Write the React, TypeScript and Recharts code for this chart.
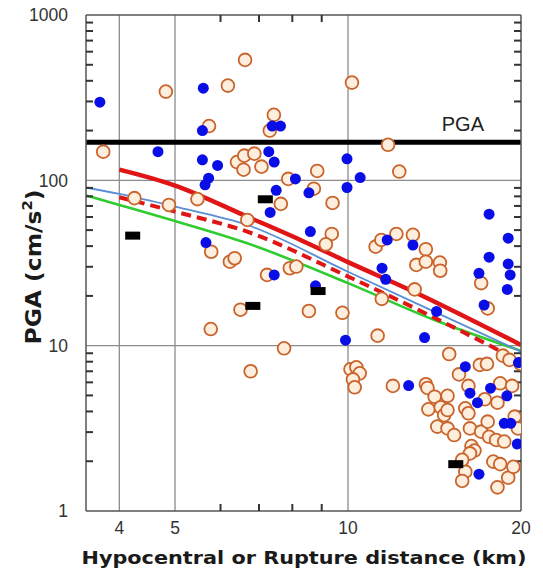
import React from "react";
import { ComposedChart, XAxis, YAxis, Scatter, Line, ReferenceLine } from "recharts";

// filled blue stations
const blueSites = [
  { x: 3.7, y: 297 }, { x: 5.6, y: 361 }, { x: 5.58, y: 200 }, { x: 4.67, y: 149 },
  { x: 5.58, y: 133 }, { x: 5.93, y: 123 }, { x: 5.72, y: 103 }, { x: 5.64, y: 94 },
  { x: 7.28, y: 149 }, { x: 7.44, y: 129 }, { x: 7.38, y: 213 }, { x: 7.63, y: 213 },
  { x: 8.1, y: 102 }, { x: 7.5, y: 87 }, { x: 7.32, y: 64 }, { x: 5.66, y: 42 },
  { x: 7.44, y: 26.8 }, { x: 8.55, y: 84 }, { x: 8.6, y: 49 }, { x: 8.78, y: 23 },
  { x: 9.96, y: 135 }, { x: 10.5, y: 104 }, { x: 9.96, y: 90.5 }, { x: 9.9, y: 10.8 },
  { x: 11.7, y: 43.6 }, { x: 12.97, y: 40.6 }, { x: 11.46, y: 29.4 }, { x: 11.63, y: 25.2 },
  { x: 17.6, y: 62.4 }, { x: 17.6, y: 34.3 }, { x: 19.0, y: 44.7 }, { x: 19.0, y: 31.2 },
  { x: 19.15, y: 26.8 }, { x: 16.9, y: 27.4 }, { x: 18.93, y: 21.9 }, { x: 17.25, y: 17.6 },
  { x: 14.26, y: 16.1 }, { x: 13.59, y: 11.2 }, { x: 16.0, y: 7.46 }, { x: 19.8, y: 7.9 },
  { x: 12.75, y: 5.74 }, { x: 16.3, y: 5.16 }, { x: 16.8, y: 4.52 }, { x: 17.7, y: 5.53 },
  { x: 18.9, y: 4.97 }, { x: 18.7, y: 3.39 }, { x: 19.2, y: 3.39 }, { x: 19.7, y: 2.54 },
  { x: 16.9, y: 1.67 },
];

// open orange stations
const orangeSites = [
  { x: 3.75, y: 149 }, { x: 4.82, y: 344 }, { x: 6.18, y: 374 }, { x: 6.62, y: 535 },
  { x: 5.73, y: 213 }, { x: 7.43, y: 249 }, { x: 7.31, y: 200 }, { x: 6.41, y: 129 },
  { x: 6.6, y: 141 }, { x: 6.87, y: 145 }, { x: 6.58, y: 116 }, { x: 7.07, y: 121 },
  { x: 7.87, y: 102 }, { x: 4.25, y: 78 }, { x: 4.88, y: 71 }, { x: 5.47, y: 77 },
  { x: 7.64, y: 72 }, { x: 6.68, y: 57.6 }, { x: 5.78, y: 37 }, { x: 6.23, y: 32.2 },
  { x: 6.35, y: 33.8 }, { x: 7.23, y: 26.8 }, { x: 7.92, y: 29.4 }, { x: 8.13, y: 30.1 },
  { x: 8.84, y: 114 }, { x: 8.72, y: 89 }, { x: 9.4, y: 73 }, { x: 9.37, y: 47.4 },
  { x: 9.15, y: 41 }, { x: 6.5, y: 16.5 }, { x: 5.77, y: 12.6 }, { x: 8.55, y: 16.2 },
  { x: 9.78, y: 15.8 }, { x: 7.74, y: 9.64 }, { x: 6.77, y: 7.0 }, { x: 10.16, y: 390 },
  { x: 11.74, y: 164 }, { x: 12.28, y: 113 },
  { x: 11.17, y: 39.7 }, { x: 11.43, y: 43.6 }, { x: 12.14, y: 47.4 }, { x: 12.97, y: 46.8 },
  { x: 13.66, y: 38.3 }, { x: 13.15, y: 30.8 }, { x: 13.66, y: 32.2 }, { x: 14.45, y: 31.8 },
  { x: 14.47, y: 28.4 }, { x: 17.05, y: 23.9 }, { x: 13.06, y: 21.9 }, { x: 11.45, y: 19.2 },
  { x: 11.26, y: 11.5 }, { x: 17.5, y: 16.8 },
  { x: 15.0, y: 8.9 }, { x: 18.6, y: 8.7 }, { x: 19.1, y: 8.2 }, { x: 19.98, y: 7.76 },
  { x: 16.96, y: 7.65 }, { x: 17.45, y: 7.76 }, { x: 10.1, y: 7.2 }, { x: 10.34, y: 7.4 },
  { x: 10.48, y: 6.8 }, { x: 10.2, y: 6.25 }, { x: 10.27, y: 5.6 }, { x: 11.97, y: 5.71 },
  { x: 13.66, y: 5.84 }, { x: 13.75, y: 5.55 }, { x: 14.15, y: 4.91 }, { x: 14.9, y: 4.97 },
  { x: 13.8, y: 4.12 }, { x: 14.5, y: 4.24 }, { x: 14.7, y: 3.8 }, { x: 14.9, y: 4.08 },
  { x: 14.3, y: 3.24 }, { x: 14.9, y: 3.16 }, { x: 15.3, y: 2.88 }, { x: 15.6, y: 6.7 },
  { x: 16.2, y: 5.71 }, { x: 17.3, y: 4.74 }, { x: 16.0, y: 4.18 }, { x: 16.2, y: 3.9 },
  { x: 16.3, y: 3.16 }, { x: 17.05, y: 3.02 }, { x: 17.5, y: 3.47 }, { x: 17.6, y: 2.81 },
  { x: 18.1, y: 2.69 }, { x: 18.7, y: 2.63 }, { x: 18.4, y: 5.92 }, { x: 18.2, y: 4.52 },
  { x: 19.3, y: 5.71 }, { x: 19.5, y: 3.72 }, { x: 19.75, y: 3.16 }, { x: 16.4, y: 2.47 },
  { x: 16.6, y: 2.32 }, { x: 16.3, y: 2.23 }, { x: 16.0, y: 1.73 }, { x: 15.8, y: 1.52 },
  { x: 17.9, y: 1.99 }, { x: 18.4, y: 1.92 }, { x: 19.0, y: 1.59 }, { x: 19.4, y: 1.85 },
  { x: 18.2, y: 1.39 }, { x: 15.8, y: 2.04 },
];

// black bars
const blackSites = [
  { x: 4.22, y: 46.3 }, { x: 7.18, y: 76.8 }, { x: 6.83, y: 17.4 }, { x: 8.87, y: 21.4 },
  { x: 15.4, y: 1.92 },
];

// attenuation curves
const redModel = [
  { x: 4, y: 116 }, { x: 5, y: 93 }, { x: 6.7, y: 60 }, { x: 8.3, y: 43.3 },
  { x: 10, y: 32 }, { x: 12.9, y: 21.5 }, { x: 20, y: 10.1 },
];
const redDashModel = [
  { x: 4, y: 79 }, { x: 5, y: 64.7 }, { x: 6.68, y: 48.9 }, { x: 10, y: 26.2 },
  { x: 14, y: 15 }, { x: 20, y: 8.0 },
];
const blueModel = [
  { x: 3.5, y: 90.5 }, { x: 4, y: 82.7 }, { x: 5, y: 69.3 }, { x: 6.68, y: 53.7 },
  { x: 10, y: 28 }, { x: 14, y: 16.3 }, { x: 20, y: 9.2 },
];
const greenModel = [
  { x: 3.5, y: 81 }, { x: 4, y: 71 }, { x: 5, y: 56.8 }, { x: 6.68, y: 41.6 },
  { x: 10, y: 23.9 }, { x: 14, y: 14.5 }, { x: 20, y: 9.3 },
];

const pgaLevel = 170;

const xDomain = [3.5, 20];
const yDomain = [1, 1000];
const xTickLabels = [4, 5, 10, 20];
const xMinorTicks = [6, 7, 8, 9];
const yTickLabels = [1, 10, 100, 1000];
const yMinorTicks = [
  2, 3, 4, 5, 6, 7, 8, 9, 20, 30, 40, 50, 60, 70, 80, 90,
  200, 300, 400, 500, 600, 700, 800, 900,
];
const xGrid = [4, 5, 10];
const yGrid = [10, 100];

// minor tick marks sit on the frame edges (domain ends)
const leftMinor = yMinorTicks.map((v) => ({ x: 3.5, y: v }));
const rightMinor = yMinorTicks.map((v) => ({ x: 20, y: v }));
const bottomMinor = xMinorTicks.map((v) => ({ x: v, y: 1 }));
const topMinor = xMinorTicks.map((v) => ({ x: v, y: 1000 }));

const FONT = "'Liberation Sans', Arial, sans-serif";
const FRAME = "#555";

const YTick = (props: any) => {
  const { x, y, payload } = props;
  return (
    <text x={x} y={y} dy="0.36em" textAnchor="end" fontSize={17.5} fill="#333" fontFamily={FONT}>
      {payload.value}
    </text>
  );
};

const XTick = (props: any) => {
  const { x, y, payload } = props;
  return (
    <text x={x} y={y} dy="0.36em" textAnchor="middle" fontSize={17.5} fill="#333" fontFamily={FONT}>
      {payload.value}
    </text>
  );
};

// inward tick marks
const leftMark = (props: any) => (
  <path d={`M${props.cx},${props.cy}h7`} stroke="#333" strokeWidth={2} />
);
const rightMark = (props: any) => (
  <path d={`M${props.cx},${props.cy}h-7`} stroke="#333" strokeWidth={2} />
);
const bottomMark = (props: any) => (
  <path d={`M${props.cx},${props.cy}v-7`} stroke="#333" strokeWidth={2} />
);
const topMark = (props: any) => (
  <path d={`M${props.cx},${props.cy}v7`} stroke="#333" strokeWidth={2} />
);

const OpenDot = (props: any) => (
  <circle cx={props.cx} cy={props.cy} r={6.4} fill="#fdeedd" stroke="#c9642c" strokeWidth={1.8} />
);
const BlueDot = (props: any) => (
  <circle cx={props.cx} cy={props.cy} r={5.5} fill="#0a0ee6" />
);
const BlackBar = (props: any) => (
  <rect x={props.cx - 7.5} y={props.cy - 4} width={15} height={8} fill="#000" />
);

const PgaLabel = (props: any) => {
  const vb = props.viewBox || {};
  return (
    <text x={vb.x + vb.width - 37} y={vb.y - 11} textAnchor="end" fontSize={20} fill="#222" fontFamily={FONT}>
      PGA
    </text>
  );
};

const frameLine = { stroke: FRAME, strokeWidth: 1.5 };

export default function App() {
  return (
    <div style={{ position: "absolute", left: 0, top: 0, width: 543, height: 570, background: "#fff" }}>
      <ComposedChart width={543} height={570} margin={{ top: 0, right: 0, bottom: 0, left: 0 }}>
        <XAxis
          xAxisId="b"
          dataKey="x"
          type="number"
          scale="log"
          domain={xDomain}
          allowDataOverflow
          ticks={xTickLabels}
          interval={0}
          height={59}
          tick={<XTick />}
          tickLine={false}
          tickSize={0}
          tickMargin={17}
          axisLine={frameLine}
        />
        <YAxis
          yAxisId="l"
          type="number"
          scale="log"
          domain={yDomain}
          allowDataOverflow
          ticks={yTickLabels}
          interval={0}
          width={86}
          tick={<YTick />}
          tickLine={false}
          tickSize={0}
          tickMargin={18}
          axisLine={frameLine}
        />
        <XAxis
          xAxisId="t"
          dataKey="x"
          orientation="top"
          type="number"
          scale="log"
          domain={xDomain}
          allowDataOverflow
          height={15}
          tick={false}
          tickLine={false}
          axisLine={frameLine}
        />
        <YAxis
          yAxisId="r"
          orientation="right"
          type="number"
          scale="log"
          domain={yDomain}
          allowDataOverflow
          width={22}
          tick={false}
          tickLine={false}
          axisLine={frameLine}
        />

        <Scatter xAxisId="b" yAxisId="l" data={leftMinor} dataKey="y" shape={leftMark} isAnimationActive={false} />
        <Scatter xAxisId="b" yAxisId="l" data={rightMinor} dataKey="y" shape={rightMark} isAnimationActive={false} />
        <Scatter xAxisId="b" yAxisId="l" data={bottomMinor} dataKey="y" shape={bottomMark} isAnimationActive={false} />
        <Scatter xAxisId="b" yAxisId="l" data={topMinor} dataKey="y" shape={topMark} isAnimationActive={false} />

        {xGrid.map((v) => (
          <ReferenceLine key={"gx" + v} xAxisId="b" yAxisId="l" x={v} stroke="#8c8c8c" strokeWidth={1.3} />
        ))}
        {yGrid.map((v) => (
          <ReferenceLine key={"gy" + v} xAxisId="b" yAxisId="l" y={v} stroke="#8c8c8c" strokeWidth={1.3} />
        ))}

        <ReferenceLine xAxisId="b" yAxisId="l" y={pgaLevel} stroke="#000" strokeWidth={5} label={<PgaLabel />} />

        <Scatter xAxisId="b" yAxisId="l" data={orangeSites} dataKey="y" shape={<OpenDot />} isAnimationActive={false} />
        <Scatter xAxisId="b" yAxisId="l" data={blueSites} dataKey="y" shape={<BlueDot />} isAnimationActive={false} />

        <Line xAxisId="b" yAxisId="l" data={greenModel} dataKey="y" type="monotone" stroke="#2fcc2f" strokeWidth={2.6} dot={false} isAnimationActive={false} />
        <Line xAxisId="b" yAxisId="l" data={blueModel} dataKey="y" type="monotone" stroke="#5a8fd6" strokeWidth={1.8} dot={false} isAnimationActive={false} />
        <Line xAxisId="b" yAxisId="l" data={redDashModel} dataKey="y" type="monotone" stroke="#e01616" strokeWidth={4} strokeDasharray="10 6" dot={false} isAnimationActive={false} />
        <Line xAxisId="b" yAxisId="l" data={redModel} dataKey="y" type="monotone" stroke="#e01616" strokeWidth={4.5} dot={false} isAnimationActive={false} />

        <Scatter xAxisId="b" yAxisId="l" data={blackSites} dataKey="y" shape={<BlackBar />} isAnimationActive={false} />
      </ComposedChart>
      <svg width={543} height={570} style={{ position: "absolute", left: 0, top: 0, pointerEvents: "none" }}>
        <text
          transform="translate(41,267) rotate(-90)"
          textAnchor="middle"
          fontSize={22}
          fontWeight="bold"
          fill="#1a1a1a"
          fontFamily="'DejaVu Sans', sans-serif"
          textLength={155}
          lengthAdjust="spacingAndGlyphs"
        >
          PGA (cm/s<tspan fontSize={14} dy={-9}>2</tspan><tspan dy={9}>)</tspan>
        </text>
        <text
          x={304}
          y={564}
          textAnchor="middle"
          fontSize={18.5}
          fontWeight="bold"
          fill="#1a1a1a"
          fontFamily="'DejaVu Sans', sans-serif"
          textLength={445}
          lengthAdjust="spacingAndGlyphs"
        >
          Hypocentral or Rupture distance (km)
        </text>
      </svg>
    </div>
  );
}
